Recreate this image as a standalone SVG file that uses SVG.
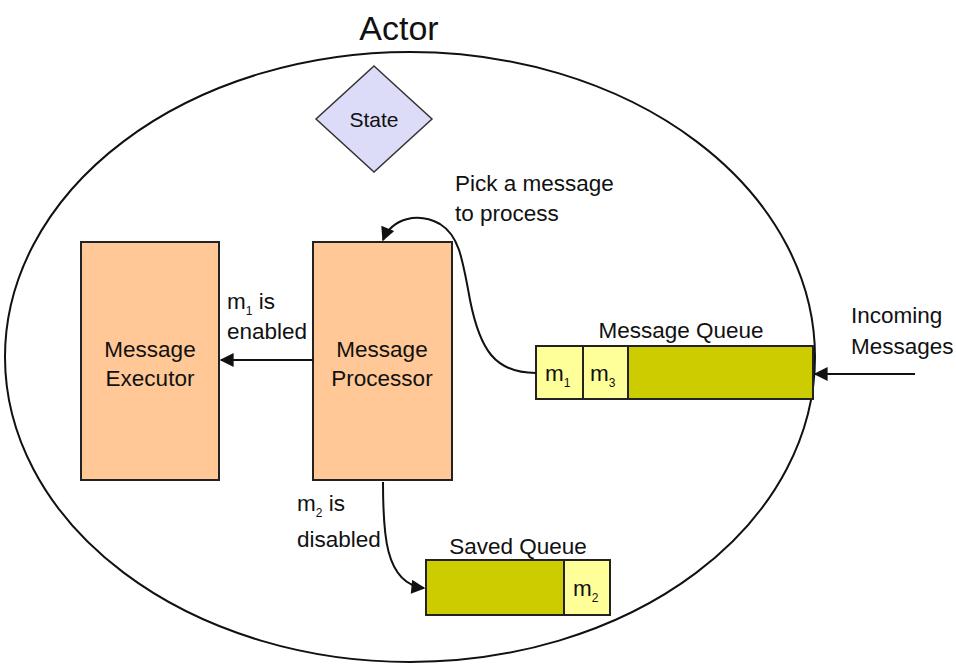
<svg xmlns="http://www.w3.org/2000/svg" width="956" height="665" viewBox="0 0 956 665">
<style>
text{font-family:"Liberation Sans",Arial,sans-serif;fill:#111;}
.lbl{font-size:22.5px;}
.sub{font-size:12px;}
.box{fill:#ffc896;stroke:#222;stroke-width:2;}
.light{fill:#ffff99;stroke:#222;stroke-width:2;}
.dark{fill:#cccc00;stroke:#222;stroke-width:2;}
.conn{fill:none;stroke:#111;stroke-width:2;}
</style>
<defs>
<marker id="ahL" viewBox="0 0 10 10" refX="9" refY="5" markerWidth="16" markerHeight="14" markerUnits="userSpaceOnUse" orient="auto">
<path d="M0,0 L10,5 L0,10 z" fill="#111"/>
</marker>
</defs>
<rect width="956" height="665" fill="#fff"/>
<g id="actor">
<ellipse cx="410" cy="357" rx="405" ry="305" fill="none" stroke="#111" stroke-width="2"/>
<text x="399" y="40" font-size="34" text-anchor="middle">Actor</text>
</g>
<g id="state">
<polygon points="374,66 432,119 374,172 316,119" fill="#dcdcf8" stroke="#333" stroke-width="1.5"/>
<text x="374" y="127" font-size="21" text-anchor="middle">State</text>
</g>
<g id="executor">
<rect class="box" x="81" y="242" width="138" height="238"/>
<text class="lbl" x="150" y="357" text-anchor="middle">Message</text>
<text class="lbl" x="150" y="386" text-anchor="middle">Executor</text>
</g>
<g id="processor">
<rect class="box" x="313" y="242" width="139" height="238"/>
<text class="lbl" x="382" y="357" text-anchor="middle">Message</text>
<text class="lbl" x="382" y="386" text-anchor="middle">Processor</text>
</g>
<g id="message-queue">
<rect class="dark" x="536" y="346" width="277" height="53"/>
<rect class="light" x="536" y="346" width="47" height="53"/>
<rect class="light" x="583" y="346" width="45" height="53"/>
<text class="lbl" x="545" y="381">m<tspan class="sub" dy="6">1</tspan></text>
<text class="lbl" x="590" y="381">m<tspan class="sub" dy="6">3</tspan></text>
<text class="lbl" x="681" y="338" text-anchor="middle">Message Queue</text>
</g>
<g id="saved-queue">
<rect class="dark" x="426" y="560" width="184" height="55"/>
<rect class="light" x="564" y="560" width="46" height="55"/>
<text class="lbl" x="573" y="596">m<tspan class="sub" dy="6">2</tspan></text>
<text class="lbl" x="518" y="554" text-anchor="middle">Saved Queue</text>
</g>
<g id="incoming">
<text class="lbl" x="851" y="323">Incoming</text>
<text class="lbl" x="851" y="354">Messages</text>
</g>
<g id="connectors">
<line class="conn" x1="313" y1="360" x2="221" y2="360" stroke-width="3" marker-end="url(#ahL)"/>
<line class="conn" x1="915" y1="374" x2="815" y2="374" marker-end="url(#ahL)"/>
<path class="conn" d="M536,373 C495,373 480,350 470,300 C462,255 458,235 440,224 C418,212 392,218 383,240" marker-end="url(#ahL)"/>
<path class="conn" d="M383,482 C383,530 384,584 424,588" marker-end="url(#ahL)"/>
<text class="lbl" x="227" y="309">m<tspan class="sub" dy="6">1</tspan><tspan dy="-6"> is</tspan></text>
<text class="lbl" x="227" y="339">enabled</text>
<text class="lbl" x="297" y="511">m<tspan class="sub" dy="6">2</tspan><tspan dy="-6"> is</tspan></text>
<text class="lbl" x="297" y="547">disabled</text>
<text class="lbl" x="455" y="191">Pick a message</text>
<text class="lbl" x="455" y="221">to process</text>
</g>
</svg>
